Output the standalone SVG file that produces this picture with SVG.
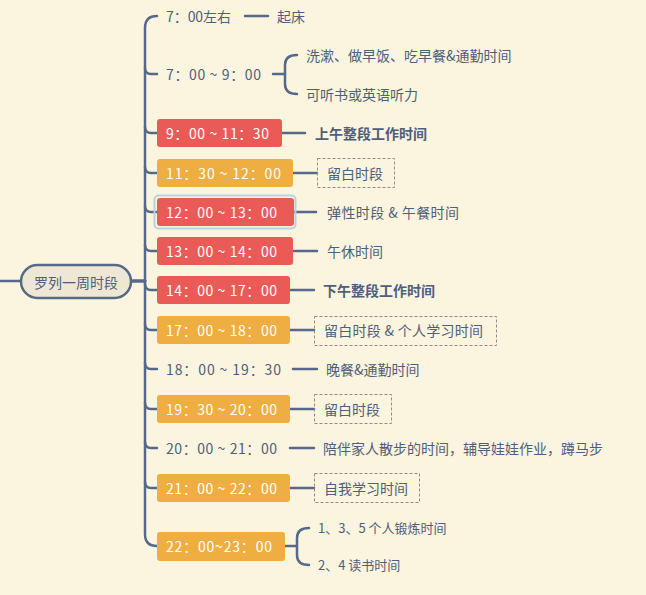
<svg xmlns="http://www.w3.org/2000/svg" width="646" height="595" viewBox="0 0 646 595">
<style>
text{font-family:"Noto Sans CJK SC","Microsoft YaHei",sans-serif;font-size:14px;fill:#4e6079;dominant-baseline:central}
.w{fill:#ffffff}
.b{font-weight:bold}
.s{font-size:13px}
.red{fill:#ea5b57}
.org{fill:#eeae41}
.ln{fill:none;stroke:#56698a;stroke-width:2.5;stroke-linecap:round}
.dash{fill:none;stroke:#8d8d8d;stroke-width:1;stroke-dasharray:3,2}
</style>
<rect width="646" height="595" fill="#fbf4df"/>
<g id="connectors">
<path class="ln" d="M0,281 L21,281"/>
<path class="ln" d="M131,281 L145,281" style="stroke-width:3.5"/>
<path class="ln" d="M157,16 Q145,16 145,28 L145,534 Q145,546 157,546"/>
<path class="ln" d="M145,68 Q145,74 151,74 L157,74"/>
<path class="ln" d="M145,127 Q145,133 151,133 L157,133"/>
<path class="ln" d="M145,167 Q145,173 151,173 L157,173"/>
<path class="ln" d="M145,206 Q145,212 151,212 L157,212"/>
<path class="ln" d="M145,245 Q145,251 151,251 L157,251"/>
<path class="ln" d="M145,284 Q145,290 151,290 L157,290"/>
<path class="ln" d="M145,324 Q145,330 151,330 L157,330"/>
<path class="ln" d="M145,363 Q145,369 151,369 L157,369"/>
<path class="ln" d="M145,403 Q145,409 151,409 L157,409"/>
<path class="ln" d="M145,442 Q145,448 151,448 L157,448"/>
<path class="ln" d="M145,482 Q145,488 151,488 L157,488"/>
<path class="ln" d="M245,16 L268,16"/>
<path class="ln" d="M273,74 L285,74"/>
<path class="ln" d="M297,55 Q285,55 285,65 L285,84 Q285,94 297,94"/>
<path class="ln" d="M282,133 L305,133"/>
<path class="ln" d="M293,173 L317,173"/>
<path class="ln" d="M294,212 L316,212"/>
<path class="ln" d="M293,251 L317,251"/>
<path class="ln" d="M290,290 L314,290"/>
<path class="ln" d="M290,330 L314,330"/>
<path class="ln" d="M293,369 L317,369"/>
<path class="ln" d="M290,409 L314,409"/>
<path class="ln" d="M290,448 L314,448"/>
<path class="ln" d="M290,488 L314,488"/>
<path class="ln" d="M285,546 L297,546"/>
<path class="ln" d="M309,528 Q297,528 297,538 L297,555 Q297,565 309,565"/>
</g>
<g id="root">
<rect x="21" y="265" width="110" height="33" rx="16.5" fill="#efe7d5" stroke="#546a85" stroke-width="2.5"/>
<text x="76" y="281.5" text-anchor="middle">罗列一周时段</text>
</g>
<g id="n1">
<text x="166" y="16" textLength="65" lengthAdjust="spacing">7：00左右</text>
<text x="277" y="16">起床</text>
</g>
<g id="n2">
<text x="166" y="74" textLength="95" lengthAdjust="spacing">7：00 ~ 9：00</text>
<text x="306" y="55">洗漱、做早饭、吃早餐&amp;通勤时间</text>
<text x="306" y="94">可听书或英语听力</text>
</g>
<g id="n3">
<rect class="red" x="157" y="119" width="125" height="28" rx="3"/>
<text class="w" x="166" y="133" textLength="103" lengthAdjust="spacing">9：00 ~ 11：30</text>
<text class="b" x="315" y="133">上午整段工作时间</text>
</g>
<g id="n4">
<rect class="org" x="157" y="159" width="136" height="28" rx="3"/>
<text class="w" x="166" y="173" textLength="115" lengthAdjust="spacing">11：30 ~ 12：00</text>
<rect class="dash" x="317.5" y="158.5" width="77" height="29"/>
<text x="327" y="173">留白时段</text>
</g>
<g id="n5">
<rect x="154.5" y="195.5" width="141" height="33" rx="4" fill="none" stroke="#b3d3e6" stroke-width="2"/>
<rect class="red" x="157" y="198" width="137" height="28" rx="3"/>
<text class="w" x="166" y="212" textLength="111" lengthAdjust="spacing">12：00 ~ 13：00</text>
<text x="327" y="212" textLength="132" lengthAdjust="spacing">弹性时段 &amp; 午餐时间</text>
</g>
<g id="n6">
<rect class="red" x="157" y="237" width="136" height="28" rx="3"/>
<text class="w" x="166" y="251" textLength="111" lengthAdjust="spacing">13：00 ~ 14：00</text>
<text x="327" y="251">午休时间</text>
</g>
<g id="n7">
<rect class="red" x="157" y="276" width="133" height="28" rx="3"/>
<text class="w" x="166" y="290" textLength="111" lengthAdjust="spacing">14：00 ~ 17：00</text>
<text class="b" x="323" y="290">下午整段工作时间</text>
</g>
<g id="n8">
<rect class="org" x="157" y="316" width="133" height="28" rx="3"/>
<text class="w" x="166" y="330" textLength="111" lengthAdjust="spacing">17：00 ~ 18：00</text>
<rect class="dash" x="314.5" y="316.5" width="182" height="29"/>
<text x="324" y="330" textLength="159" lengthAdjust="spacing">留白时段 &amp; 个人学习时间</text>
</g>
<g id="n9">
<text x="166" y="369" textLength="115" lengthAdjust="spacing">18：00 ~ 19：30</text>
<text x="326" y="369">晚餐&amp;通勤时间</text>
</g>
<g id="n10">
<rect class="org" x="157" y="395" width="133" height="28" rx="3"/>
<text class="w" x="166" y="409" textLength="111" lengthAdjust="spacing">19：30 ~ 20：00</text>
<rect class="dash" x="314.5" y="394.5" width="77" height="29"/>
<text x="324" y="409">留白时段</text>
</g>
<g id="n11">
<text x="166" y="448" textLength="111" lengthAdjust="spacing">20：00 ~ 21：00</text>
<text x="323" y="448">陪伴家人散步的时间，辅导娃娃作业，蹲马步</text>
</g>
<g id="n12">
<rect class="org" x="157" y="474" width="133" height="28" rx="3"/>
<text class="w" x="166" y="488" textLength="111" lengthAdjust="spacing">21：00 ~ 22：00</text>
<rect class="dash" x="314.5" y="473.5" width="105" height="29"/>
<text x="324" y="488">自我学习时间</text>
</g>
<g id="n13">
<rect class="org" x="157" y="532" width="128" height="29" rx="3"/>
<text class="w" x="166" y="546" textLength="106" lengthAdjust="spacing">22：00~23：00</text>
<text class="s" x="318" y="527">1、3、5 个人锻炼时间</text>
<text class="s" x="318" y="564">2、4 读书时间</text>
</g>
</svg>
